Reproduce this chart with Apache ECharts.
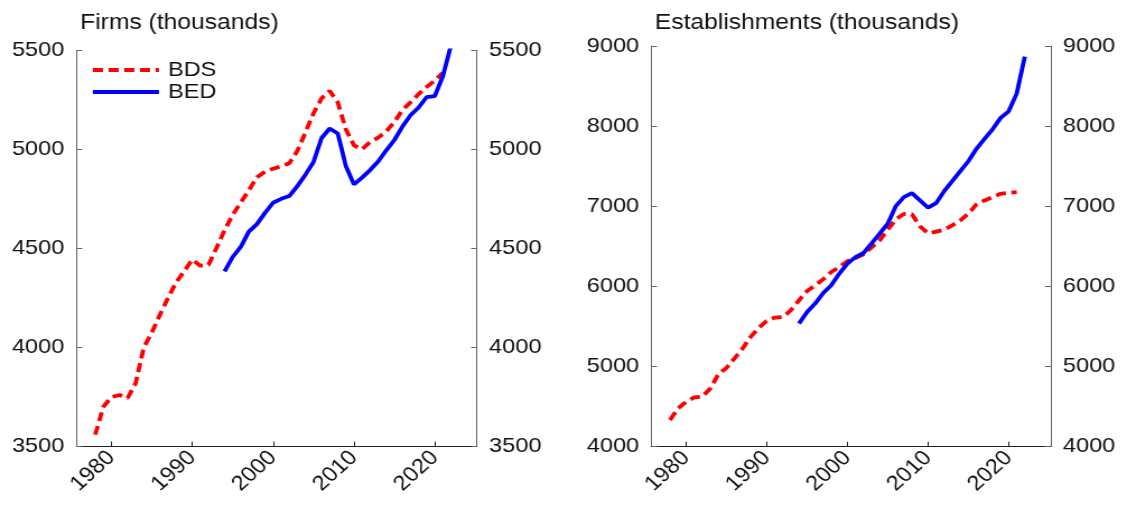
<!DOCTYPE html>
<html>
<head>
<meta charset="utf-8">
<script src="https://cdn.jsdelivr.net/npm/echarts@6/dist/echarts.min.js"></script>
<style>
html,body{margin:0;padding:0;background:#fff;overflow:hidden;width:1127px;height:508px;}
#wrap{width:1127px;height:508px;overflow:hidden;position:relative;}
#chart{width:1006px;height:508px;transform:scaleX(1.12028);transform-origin:0 0;}
</style>
</head>
<body>
<div id="wrap"><div id="chart"></div></div>
<script>
const xTicks = [1980, 1990, 2000, 2010, 2020];
const firmTicks = [3500, 4000, 4500, 5000, 5500];
const estTicks = [4000, 5000, 6000, 7000, 8000, 9000];

const bdsYears = [1978,1979,1980,1981,1982,1983,1984,1985,1986,1987,1988,1989,1990,1991,1992,1993,1994,1995,1996,1997,1998,1999,2000,2001,2002,2003,2004,2005,2006,2007,2008,2009,2010,2011,2012,2013,2014,2015,2016,2017,2018,2019,2020,2021];
const bedYears = [1994,1995,1996,1997,1998,1999,2000,2001,2002,2003,2004,2005,2006,2007,2008,2009,2010,2011,2012,2013,2014,2015,2016,2017,2018,2019,2020,2021,2022];

const firmsBDS = [3560,3700,3750,3760,3745,3820,4000,4076,4165,4250,4329,4385,4444,4413,4417,4503,4592,4670,4732,4794,4860,4888,4903,4915,4930,4993,5086,5183,5258,5296,5238,5102,5021,5001,5038,5060,5092,5139,5200,5238,5280,5316,5348,5388];
const firmsBED = [4385,4457,4508,4585,4623,4680,4731,4751,4765,4815,4873,4937,5058,5106,5081,4917,4824,4858,4896,4939,4996,5048,5116,5173,5212,5265,5270,5370,5525];

const estBDS = [4333,4478,4561,4615,4623,4727,4905,4984,5101,5226,5370,5482,5569,5611,5619,5703,5827,5943,6014,6089,6180,6242,6315,6355,6400,6487,6575,6708,6836,6905,6900,6749,6662,6683,6708,6762,6824,6907,7023,7073,7114,7156,7168,7176];
const estBED = [5537,5682,5786,5918,6014,6160,6285,6365,6417,6537,6658,6783,7002,7114,7164,7073,6982,7039,7189,7313,7438,7562,7717,7841,7961,8103,8185,8409,8867];

const FONT = "'Liberation Sans', Arial, sans-serif";
const LW = 3.8;
const pair = (xs, ys) => xs.map((x, i) => [x, ys[i]]);
const plain = v => String(v);

function xAxis(gi) {
  return {
    type: 'value', gridIndex: gi, min: 1975.7, max: 2025.2,
    axisLine: { show: true, lineStyle: { color: '#222', width: 1 } },
    axisTick: { show: true, inside: true, length: 5, customValues: xTicks, lineStyle: { color: '#222' } },
    axisLabel: { customValues: xTicks, formatter: plain, rotate: 45, margin: 8, fontSize: 21, color: '#111', fontFamily: FONT },
    splitLine: { show: false }
  };
}
function yAxis(gi, pos, ticks) {
  return {
    type: 'value', gridIndex: gi, position: pos,
    min: ticks[0], max: ticks[ticks.length - 1], interval: ticks[1] - ticks[0],
    axisLine: { show: true, onZero: false, lineStyle: { color: '#666', width: 1 } },
    axisTick: { show: true, inside: true, length: 5, lineStyle: { color: '#666' } },
    axisLabel: { formatter: plain, margin: 11, fontSize: 21, color: '#111', fontFamily: FONT },
    splitLine: { show: false }
  };
}
function bds(xi, yi, data) {
  return { name: 'BDS', type: 'line', xAxisIndex: xi, yAxisIndex: yi, data: data,
    symbol: 'none', showSymbol: false, animation: false,
    lineStyle: { color: '#ff0000', width: LW, type: [9, 5] }, itemStyle: { color: '#ff0000' } };
}
function bed(xi, yi, data) {
  return { name: 'BED', type: 'line', xAxisIndex: xi, yAxisIndex: yi, data: data,
    symbol: 'none', showSymbol: false, animation: false,
    lineStyle: { color: '#0000ff', width: LW, type: 'solid' }, itemStyle: { color: '#0000ff' } };
}

const chart = echarts.init(document.getElementById('chart'), null, { renderer: 'canvas' });
chart.setOption({
  animation: false,
  backgroundColor: '#fff',
  title: [
    { text: 'Firms (thousands)', left: 71.5, top: 12, padding: 0,
      textStyle: { fontSize: 22, fontWeight: 'normal', color: '#111', fontFamily: FONT } },
    { text: 'Establishments (thousands)', left: 584.5, top: 12, padding: 0,
      textStyle: { fontSize: 22, fontWeight: 'normal', color: '#111', fontFamily: FONT } }
  ],
  legend: {
    data: ['BDS', 'BED'], orient: 'vertical', left: 81, top: 59, padding: 0,
    itemGap: 0, itemWidth: 59, itemHeight: 14,
    itemStyle: { opacity: 0, borderWidth: 0 },
    lineStyle: { width: LW, type: 'inherit' },
    textStyle: { fontSize: 21, lineHeight: 22, color: '#111', fontFamily: FONT, padding: [0, 0, 0, 3] }
  },
  grid: [
    { left: 68.4, right: 1006 - 425.6, top: 50.5, bottom: 508 - 446.5, containLabel: false },
    { left: 581.5, right: 1006 - 937.8, top: 46, bottom: 508 - 446.7, containLabel: false }
  ],
  xAxis: [xAxis(0), xAxis(1)],
  yAxis: [yAxis(0, 'left', firmTicks), yAxis(0, 'right', firmTicks), yAxis(1, 'left', estTicks), yAxis(1, 'right', estTicks)],
  series: [
    bds(0, 0, pair(bdsYears, firmsBDS)),
    bed(0, 0, pair(bedYears, firmsBED)),
    bds(1, 2, pair(bdsYears, estBDS)),
    bed(1, 2, pair(bedYears, estBED))
  ]
});
</script>
</body>
</html>
